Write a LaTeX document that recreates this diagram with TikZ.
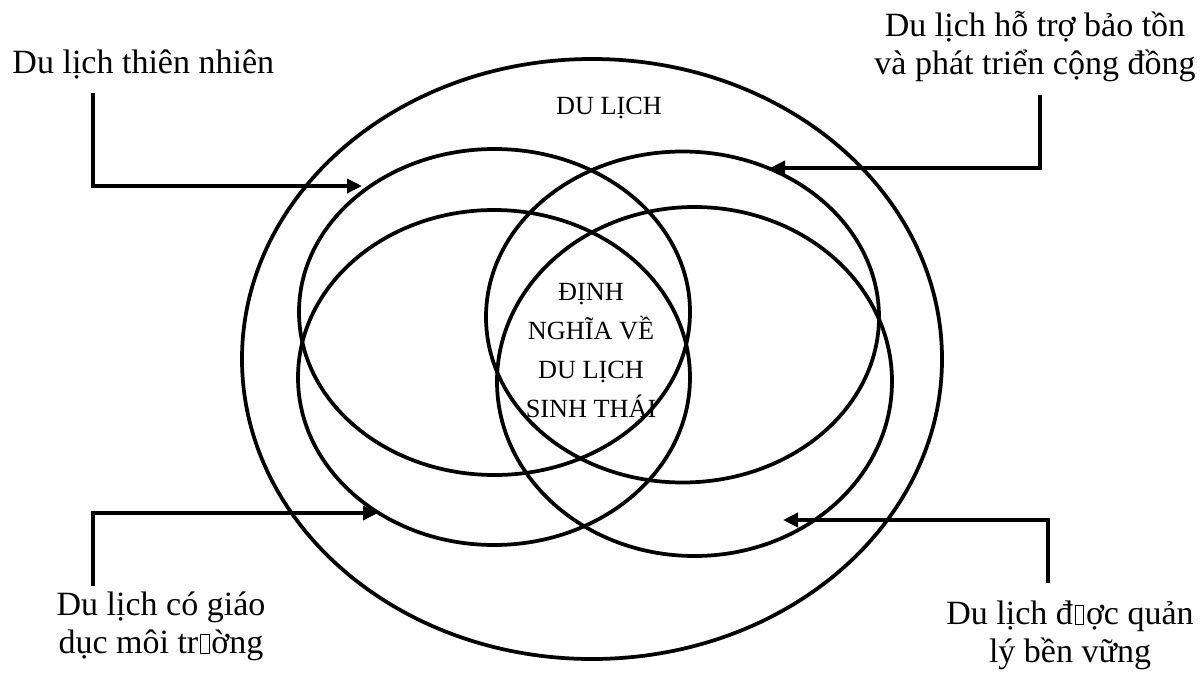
\documentclass[tikz,border=0pt]{standalone}
\usepackage{fontspec}
\setmainfont{Liberation Serif}
\usetikzlibrary{shapes.geometric,arrows.meta}
\newcommand{\nobox}{\hspace{0.05em}{\setlength\fboxsep{0pt}\setlength\fboxrule{0.45pt}\fbox{\rule{0pt}{0.52em}\hspace{0.22em}}}\hspace{0.05em}}
\begin{document}
\begin{tikzpicture}[x=0.4pt,y=-0.4pt,
  ell/.style={draw,ellipse,line width=1.5pt,inner sep=0pt,outer sep=0pt},
  arr/.style={line width=1.4pt,-{Triangle[length=6pt,width=5.6pt]}},
  lbl/.style={font=\fontsize{13.6}{15.2}\selectfont,inner sep=0pt,align=center},
  inlbl/.style={font=\fontsize{10.5}{15.6}\selectfont,inner sep=0pt,align=center}]
\useasboundingbox (0,0) rectangle (1200,673);
% ellipses
\node[ell,minimum width=280pt,minimum height=240pt] (outer) at (592,359) {};
\node[ell,minimum width=156.4pt,minimum height=130.4pt] (tl) at (494.5,312) {};
\node[ell,minimum width=157.2pt,minimum height=132.4pt] (tr) at (682.5,317) {};
\node[ell,minimum width=156.8pt,minimum height=134pt] (bl) at (494,377.5) {};
\node[ell,minimum width=158pt,minimum height=139.6pt] (br) at (694.5,381.5) {};
% texts
\node[inlbl,anchor=base] (du) at (609,114) {DU LỊCH};
\node[inlbl,anchor=base] (def) at (591,417) {ĐỊNH\\NGHĨA VỀ\\DU LỊCH\\SINH THÁI};
\node[lbl,anchor=base west] (l1) at (12,73) {Du lịch thiên nhiên};
\node[lbl,anchor=base] (l2) at (1035,74) {Du lịch hỗ trợ bảo tồn\\và phát triển cộng đồng};
\node[lbl,anchor=base] (l3) at (161,653) {Du lịch có giáo\\dục môi tr\nobox ờng};
\node[lbl,anchor=base] (l4) at (1070,662) {Du lịch đ\nobox ợc quản\\lý bền vững};
% arrow coordinates
\coordinate (a1s) at (93,93);
\coordinate (a1e) at (362,186);
\coordinate (a2s) at (1040,95);
\coordinate (a2e) at (770,168);
\coordinate (a3s) at (93,586);
\coordinate (a3e) at (378,513);
\coordinate (a4s) at (1048,583);
\coordinate (a4e) at (783,520);
\draw[arr] (a1s) |- (a1e);
\draw[arr] (a2s) |- (a2e);
\draw[arr] (a3s) |- (a3e);
\draw[arr] (a4s) |- (a4e);
\end{tikzpicture}
\end{document}
